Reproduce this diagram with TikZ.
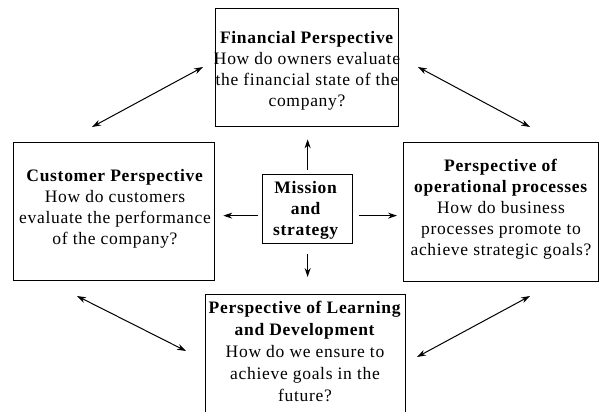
\documentclass[tikz,border=0pt]{standalone}
\usepackage{fontspec}
\setmainfont[LetterSpace=4]{Liberation Serif}
\usetikzlibrary{arrows.meta}
\begin{document}
\begin{tikzpicture}[x=1pt,y=-1pt,
  box/.style={draw=black, line width=1.3pt, inner sep=0pt, anchor=north west},
  txt/.style={align=center, inner sep=0pt, anchor=north, font=\fontsize{17.5}{21}\selectfont},
  arr/.style={line width=1pt, -{Stealth[length=9pt,width=6pt]}},
  darr/.style={line width=1pt, {Stealth[length=9pt,width=6pt]}-{Stealth[length=9pt,width=6pt]}}]
\useasboundingbox (0,0) rectangle (600,412);
\fill[white] (0,0) rectangle (600,412);
% boxes
\node[box, minimum width=183pt, minimum height=118pt] (fin) at (215,8) {};
\node[box, minimum width=201pt, minimum height=138pt] (cust) at (13,142) {};
\node[box, minimum width=195pt, minimum height=139pt] (ops) at (403,142) {};
\node[box, minimum width=200pt, minimum height=140pt] (learn) at (205,294) {};
\node[box, minimum width=90pt, minimum height=69pt] (mis) at (262,174) {};
% texts
\node[txt] (fint) at (307,31) {\textbf{Financial Perspective}\\How do owners evaluate\\the financial state of the\\company?};
\node[txt] (custt) at (115,169) {\textbf{Customer Perspective}\\How do customers\\evaluate the performance\\of the company?};
\node[txt] (opst) at (501,159) {\textbf{Perspective of}\\\textbf{operational processes}\\How do business\\processes promote to\\achieve strategic goals?};
\node[txt] (mist) at (306,181) {\textbf{Mission}\\\textbf{and}\\\textbf{strategy}};
\node[txt, font=\fontsize{17.5}{22}\selectfont] (learnt) at (305,301) {\textbf{Perspective of Learning}\\\textbf{and Development}\\How do we ensure to\\achieve goals in the\\future?};
% central arrows
\draw[arr, shorten <=4pt, shorten >=12pt] (mis.north) -- (mis.north |- fin.south);
\draw[arr, shorten <=10pt, shorten >=17pt] (mis.south) -- (mis.south |- learn.north);
\draw[arr, shorten <=4pt, shorten >=8pt] ([yshift=-6.5pt]mis.west) -- ([yshift=-6.5pt]mis.west -| cust.east);
\draw[arr, shorten <=6pt, shorten >=6pt] ([yshift=-6.5pt]mis.east) -- ([yshift=-6.5pt]mis.east -| ops.west);
% diagonal arrows
\coordinate (tl1) at (92,127);
\coordinate (tl2) at (203,67);
\coordinate (tr1) at (418,67);
\coordinate (tr2) at (530,127);
\coordinate (bl1) at (77,296);
\coordinate (bl2) at (186,351);
\coordinate (br1) at (417,357);
\coordinate (br2) at (530,296);
\draw[darr] (tl1) -- (tl2);
\draw[darr] (tr1) -- (tr2);
\draw[darr] (bl1) -- (bl2);
\draw[darr] (br1) -- (br2);
\end{tikzpicture}
\end{document}
